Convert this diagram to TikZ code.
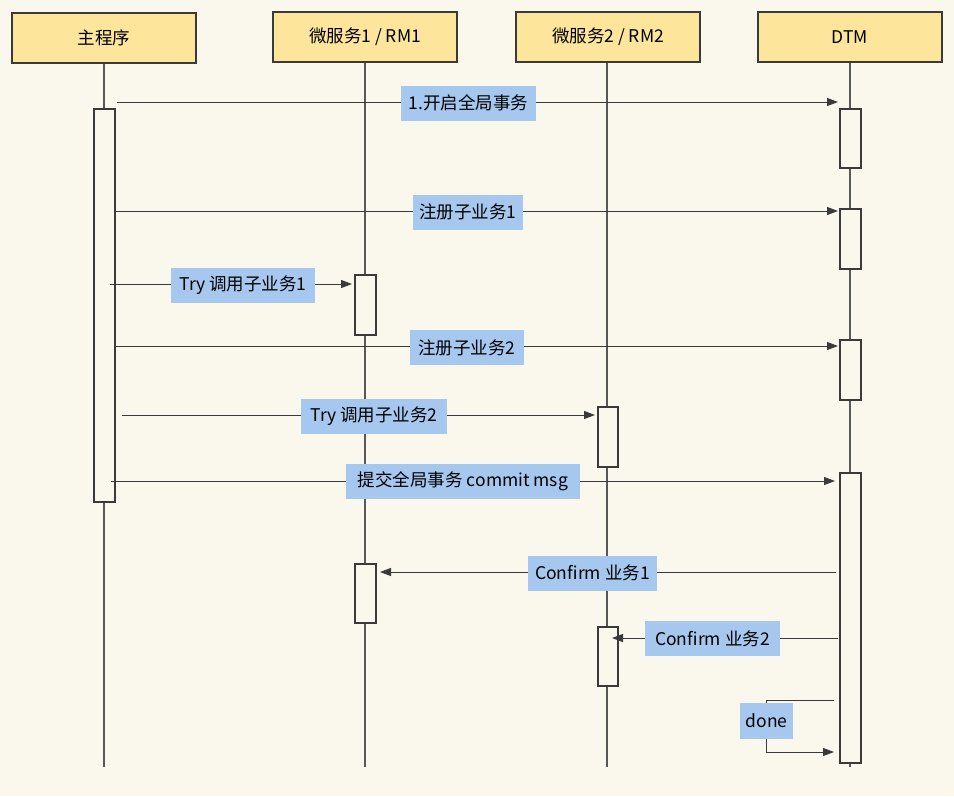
\documentclass[tikz,border=0pt]{standalone}
\usepackage{fontspec}
\setmainfont{Noto Sans CJK SC}
\usetikzlibrary{arrows.meta}
\definecolor{bgc}{HTML}{FAF8EC}
\definecolor{headc}{HTML}{FDE59C}
\definecolor{labc}{HTML}{A6C8EE}
\definecolor{linec}{HTML}{3A3A3A}
\begin{document}
\begin{tikzpicture}[x=1pt,y=-1pt,
  every node/.style={font=\fontsize{17.5}{20}\selectfont},
  head/.style={draw=linec,line width=1.2pt,fill=headc,minimum width=184pt,minimum height=50pt,inner sep=0pt},
  life/.style={draw=linec!85,line width=1.1pt},
  act/.style={draw=linec,line width=1.1pt,fill=bgc,minimum width=21pt,inner sep=0pt},
  msg/.style={draw=linec,line width=1pt,-{Triangle[length=11pt,width=8pt]}},
  lab/.style={fill=labc,inner xsep=4pt,inner ysep=0pt,minimum height=35pt,text=black}]
\fill[bgc] (0,0) rectangle (954,796);
\useasboundingbox (0,0) rectangle (954,796);
% headers
\node[head] (h1) at (104,38) {主程序};
\node[head] (h2) at (365,37) {微服务1 / RM1};
\node[head] (h3) at (608,37) {微服务2 / RM2};
\node[head] (h4) at (850,37) {DTM};
\coordinate (e1) at (104,767);
\coordinate (e2) at (365,767);
\coordinate (e3) at (607,767);
\coordinate (e4) at (850,767);
\draw[life] (h1.south) -- (e1);
\draw[life] (h2.south) -- (e2);
\draw[life] ([xshift=-1pt]h3.south) -- (e3);
\draw[life] (h4.south) -- (e4);
% activations
\node[act,minimum height=393pt] (am) at (104.5,305.5) {};
\node[act,minimum height=59pt] (d1) at (850.5,138.5) {};
\node[act,minimum height=60pt] (d2) at (850.5,239) {};
\node[act,minimum height=60pt] (d3) at (850.5,370) {};
\node[act,minimum height=290pt] (d4) at (850.5,618) {};
\node[act,minimum height=60pt] (r1a) at (365.5,305) {};
\node[act,minimum height=59pt] (r1b) at (365.5,593.5) {};
\node[act,minimum width=20pt,minimum height=60pt] (r2a) at (608,437) {};
\node[act,minimum width=20pt,minimum height=59pt] (r2b) at (608,656.5) {};
% message end points
\coordinate (m1s) at (117,102); \coordinate (m1e) at (838,102);
\coordinate (m2s) at (115,211); \coordinate (m2e) at (838,211);
\coordinate (m3s) at (110,284); \coordinate (m3e) at (352,284);
\coordinate (m4s) at (115,346); \coordinate (m4e) at (838,346);
\coordinate (m5s) at (122,415); \coordinate (m5e) at (595,415);
\coordinate (m6s) at (111,481); \coordinate (m6e) at (835,481);
\coordinate (m7s) at (836,572); \coordinate (m7e) at (380,572);
\coordinate (m8s) at (838,638); \coordinate (m8e) at (612,638);
\coordinate (m9s) at (834,700); \coordinate (m9a) at (766,700);
\coordinate (m9b) at (766,752); \coordinate (m9e) at (834,752);
\draw[msg] (m1s) -- (m1e);
\draw[msg] (m2s) -- (m2e);
\draw[msg] (m3s) -- (m3e);
\draw[msg] (m4s) -- (m4e);
\draw[msg] (m5s) -- (m5e);
\draw[msg] (m6s) -- (m6e);
\draw[msg] (m7s) -- (m7e);
\draw[msg] (m8s) -- (m8e);
\draw[msg] (m9s) -- (m9a) -- (m9b) -- (m9e);
% labels
\node[lab,minimum width=135pt] (l1) at (468.5,103) {1.开启全局事务};
\node[lab,minimum width=110pt] (l2) at (468,212) {注册子业务1};
\node[lab,minimum width=144pt] (l3) at (243,285) {Try 调用子业务1};
\node[lab,minimum width=114pt] (l4) at (467,347.5) {注册子业务2};
\node[lab,minimum width=146pt] (l5) at (374,416) {Try 调用子业务2};
\node[lab,minimum width=234pt] (l6) at (463,481.5) {提交全局事务 commit msg};
\node[lab,minimum width=129pt] (l7) at (592.5,573) {Confirm 业务1};
\node[lab,minimum width=135pt] (l8) at (712.5,638.5) {Confirm 业务2};
\node[lab,minimum width=53pt,minimum height=36pt,inner xsep=2pt] (l9) at (766.5,721) {done};
\end{tikzpicture}
\end{document}
